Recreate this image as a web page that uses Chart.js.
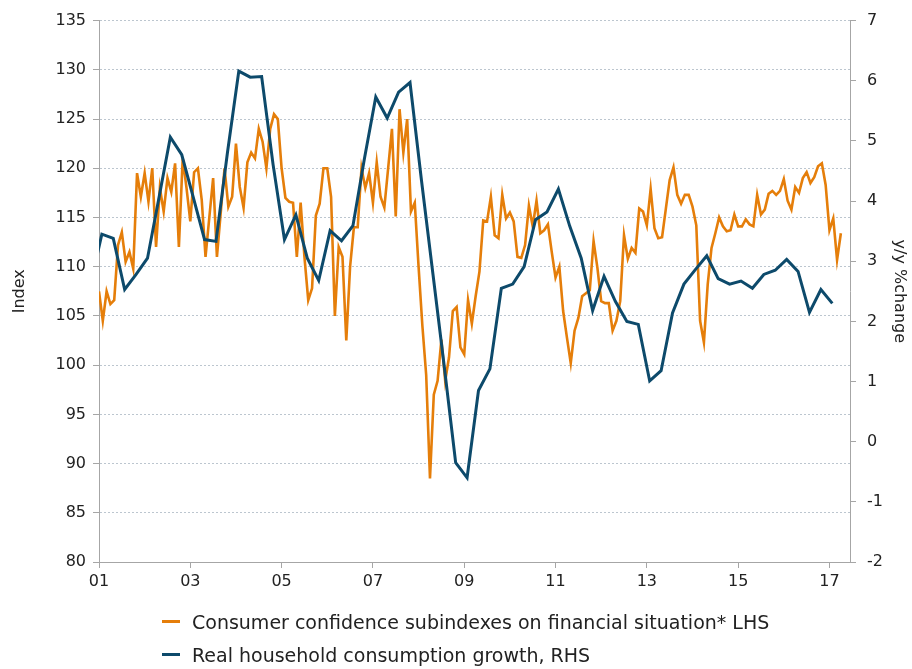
<!DOCTYPE html>
<html><head><meta charset="utf-8">
<script src="https://cdn.jsdelivr.net/npm/chart.js@4.4.1/dist/chart.umd.min.js"></script>
<style>
html,body{margin:0;padding:0;background:#fff;}
#wrap{position:relative;width:912px;height:669px;overflow:hidden;}
canvas{position:absolute;left:0;top:0;}
#legend{position:absolute;left:162px;top:605px;font-family:"DejaVu Sans",Verdana,sans-serif;font-size:19px;color:#222;}
.item{display:flex;align-items:center;height:33px;white-space:nowrap;}
.swatch{width:18px;height:3px;margin-right:12px;}
</style></head><body>
<div id="wrap"><canvas id="c" width="912" height="669"></canvas><div id="legend"></div></div>
<script>
// Series labels
const seriesLabels = [
  "Consumer confidence subindexes on financial situation* LHS",
  "Real household consumption growth, RHS"
];
// Monthly consumer confidence index (LHS), Jan 2001 .. Apr 2017
const confStartYear = 2001;
const confidence = [
  107.5,104.5,107.5,106.2,106.6,112.2,113.5,110.5,111.5,109.8,119.5,117.1,
  119.5,116.6,120,112,118,115.6,119,117.6,120.5,112,121,118,
  114.6,119.6,120,116.8,111,115,119,111,115.5,120,116.1,117.1,
  122.5,118.1,116,120.6,121.6,121,124,122.7,120,124,125.5,125,
  120,117,116.6,116.5,111,116.5,111,106.6,107.8,115.2,116.4,120,
  120,117.1,105,112,111,102.5,110,114,114,120,118,119.5,
  116.5,120.6,117.1,116,120,124,115.1,126,121.6,125,115.6,116.5,
  110,104,99,88.5,97,98.4,102.6,98.4,100.8,105.5,105.9,101.8,
  101.1,106.6,104.2,107,109.5,114.7,114.6,117.1,113.2,112.9,117.3,114.9,
  115.5,114.6,111,110.9,112.2,116.2,114.1,116.7,113.4,113.7,114.3,111.5,
  108.9,110,105.5,102.8,100.2,103.5,104.8,107,107.3,107.6,112.6,109.9,
  106.5,106.3,106.3,103.5,104.5,106.5,113.2,110.8,111.9,111.4,115.9,115.6,
  114.2,117.9,113.9,112.9,113,115.9,118.8,120.1,117.3,116.4,117.3,117.3,
  116.1,114.2,104.5,102.3,108.2,111.9,113.4,115,114.1,113.6,113.7,115.3,
  114.1,114.1,114.8,114.3,114.1,117.3,115.3,115.8,117.4,117.7,117.3,117.7,
  118.9,116.7,115.8,118.1,117.5,119,119.6,118.5,119.1,120.2,120.5,118.3,
  113.7,114.9,110.7,113.4
];
// Quarterly real household consumption growth (RHS), 2000 Q4 .. 2017 Q1
const consStartQuarter = 2000.8125;
const consumption = [
  2.6,
  3.45,3.38,2.53,2.78, 3.05,4.05,5.06,4.77, 4.07,3.36,3.33,4.8,
  6.16,6.06,6.07,4.61, 3.36,3.77,3.05,2.68, 3.51,3.34,3.59,4.7,
  5.73,5.38,5.81,5.97, 4.35,2.8,1.25,-0.35, -0.6,0.85,1.21,2.55,
  2.62,2.91,3.69,3.82, 4.2,3.58,3.05,2.18, 2.75,2.33,2.0,1.95,
  1.01,1.18,2.14,2.62, 2.86,3.09,2.71,2.62, 2.67,2.55,2.78,2.85,
  3.03,2.83,2.15,2.53, 2.3
];
// Axis ticks
const xTickYears = [2001,2003,2005,2007,2009,2011,2013,2015,2017];
const xTickLabels = ["01","03","05","07","09","11","13","15","17"];
const leftTitle = "Index";
const rightTitle = "y/y %change";

const confPoints = confidence.map((v,i)=>({x: confStartYear + i/12, y: v}));
const consPoints = consumption.map((v,i)=>({x: consStartQuarter + i/4, y: v}));

const ORANGE = "#E57E0A", BLUE = "#0D4A6B";
const FONT = {family: "'DejaVu Sans', Verdana, sans-serif", size: 16};
const TXT = "#222";
const AXIS = "#a6a6a6";

new Chart(document.getElementById('c'), {
  type: 'line',
  data: {
    datasets: [
      {label: seriesLabels[0], data: confPoints, yAxisID: 'y', borderColor: ORANGE, borderWidth: 2.6, pointRadius: 0, tension: 0, order: 2},
      {label: seriesLabels[1], data: consPoints, yAxisID: 'y2', borderColor: BLUE, borderWidth: 3, pointRadius: 0, tension: 0, order: 1}
    ]
  },
  options: {
    responsive: false,
    animation: false,
    layout: {padding: {top: 18, left: 0, right: 0, bottom: 0}},
    plugins: {legend: {display: false}, tooltip: {enabled: false}},
    scales: {
      x: {
        type: 'linear', min: 2001, max: 2017.45,
        afterBuildTicks: s => { s.ticks = xTickYears.map(v => ({value: v})); },
        afterFit: s => { s.height = 107; },
        ticks: {font: FONT, color: TXT, padding: 4, maxRotation: 0, autoSkip: false,
          callback: (v) => { const i = xTickYears.indexOf(v); return i >= 0 ? xTickLabels[i] : ''; }},
        grid: {drawOnChartArea: false, drawTicks: true, tickLength: 6, tickColor: AXIS, color: AXIS},
        border: {display: true, color: AXIS, width: 1}
      },
      y: {
        position: 'left', min: 80, max: 135,
        afterFit: s => { s.width = 99; },
        ticks: {stepSize: 5, font: FONT, color: TXT, padding: 7},
        grid: {color: "#bcc6cf", lineWidth: 1, tickLength: 6, tickColor: AXIS, drawTicks: true},
        border: {display: true, color: AXIS, width: 1, dash: [2, 2]},
        title: {display: true, text: leftTitle, font: FONT, color: TXT, padding: {top: 10, bottom: 0}}
      },
      y2: {
        position: 'right', min: -2, max: 7,
        afterFit: s => { s.width = 62; },
        ticks: {stepSize: 1, font: FONT, color: TXT, padding: 11},
        grid: {drawOnChartArea: false, tickLength: 6, tickColor: AXIS, color: AXIS},
        border: {display: true, color: AXIS, width: 1},
        title: {display: true, text: rightTitle, font: FONT, color: TXT, padding: {top: 3, bottom: 0}}
      }
    }
  }
});

// HTML legend built from the series labels
const colors = [ORANGE, BLUE];
const leg = document.getElementById('legend');
seriesLabels.forEach((t, i) => {
  const d = document.createElement('div'); d.className = 'item';
  const s = document.createElement('span'); s.className = 'swatch'; s.style.background = colors[i];
  const l = document.createElement('span'); l.textContent = t;
  d.appendChild(s); d.appendChild(l); leg.appendChild(d);
});
</script>
</body></html>
